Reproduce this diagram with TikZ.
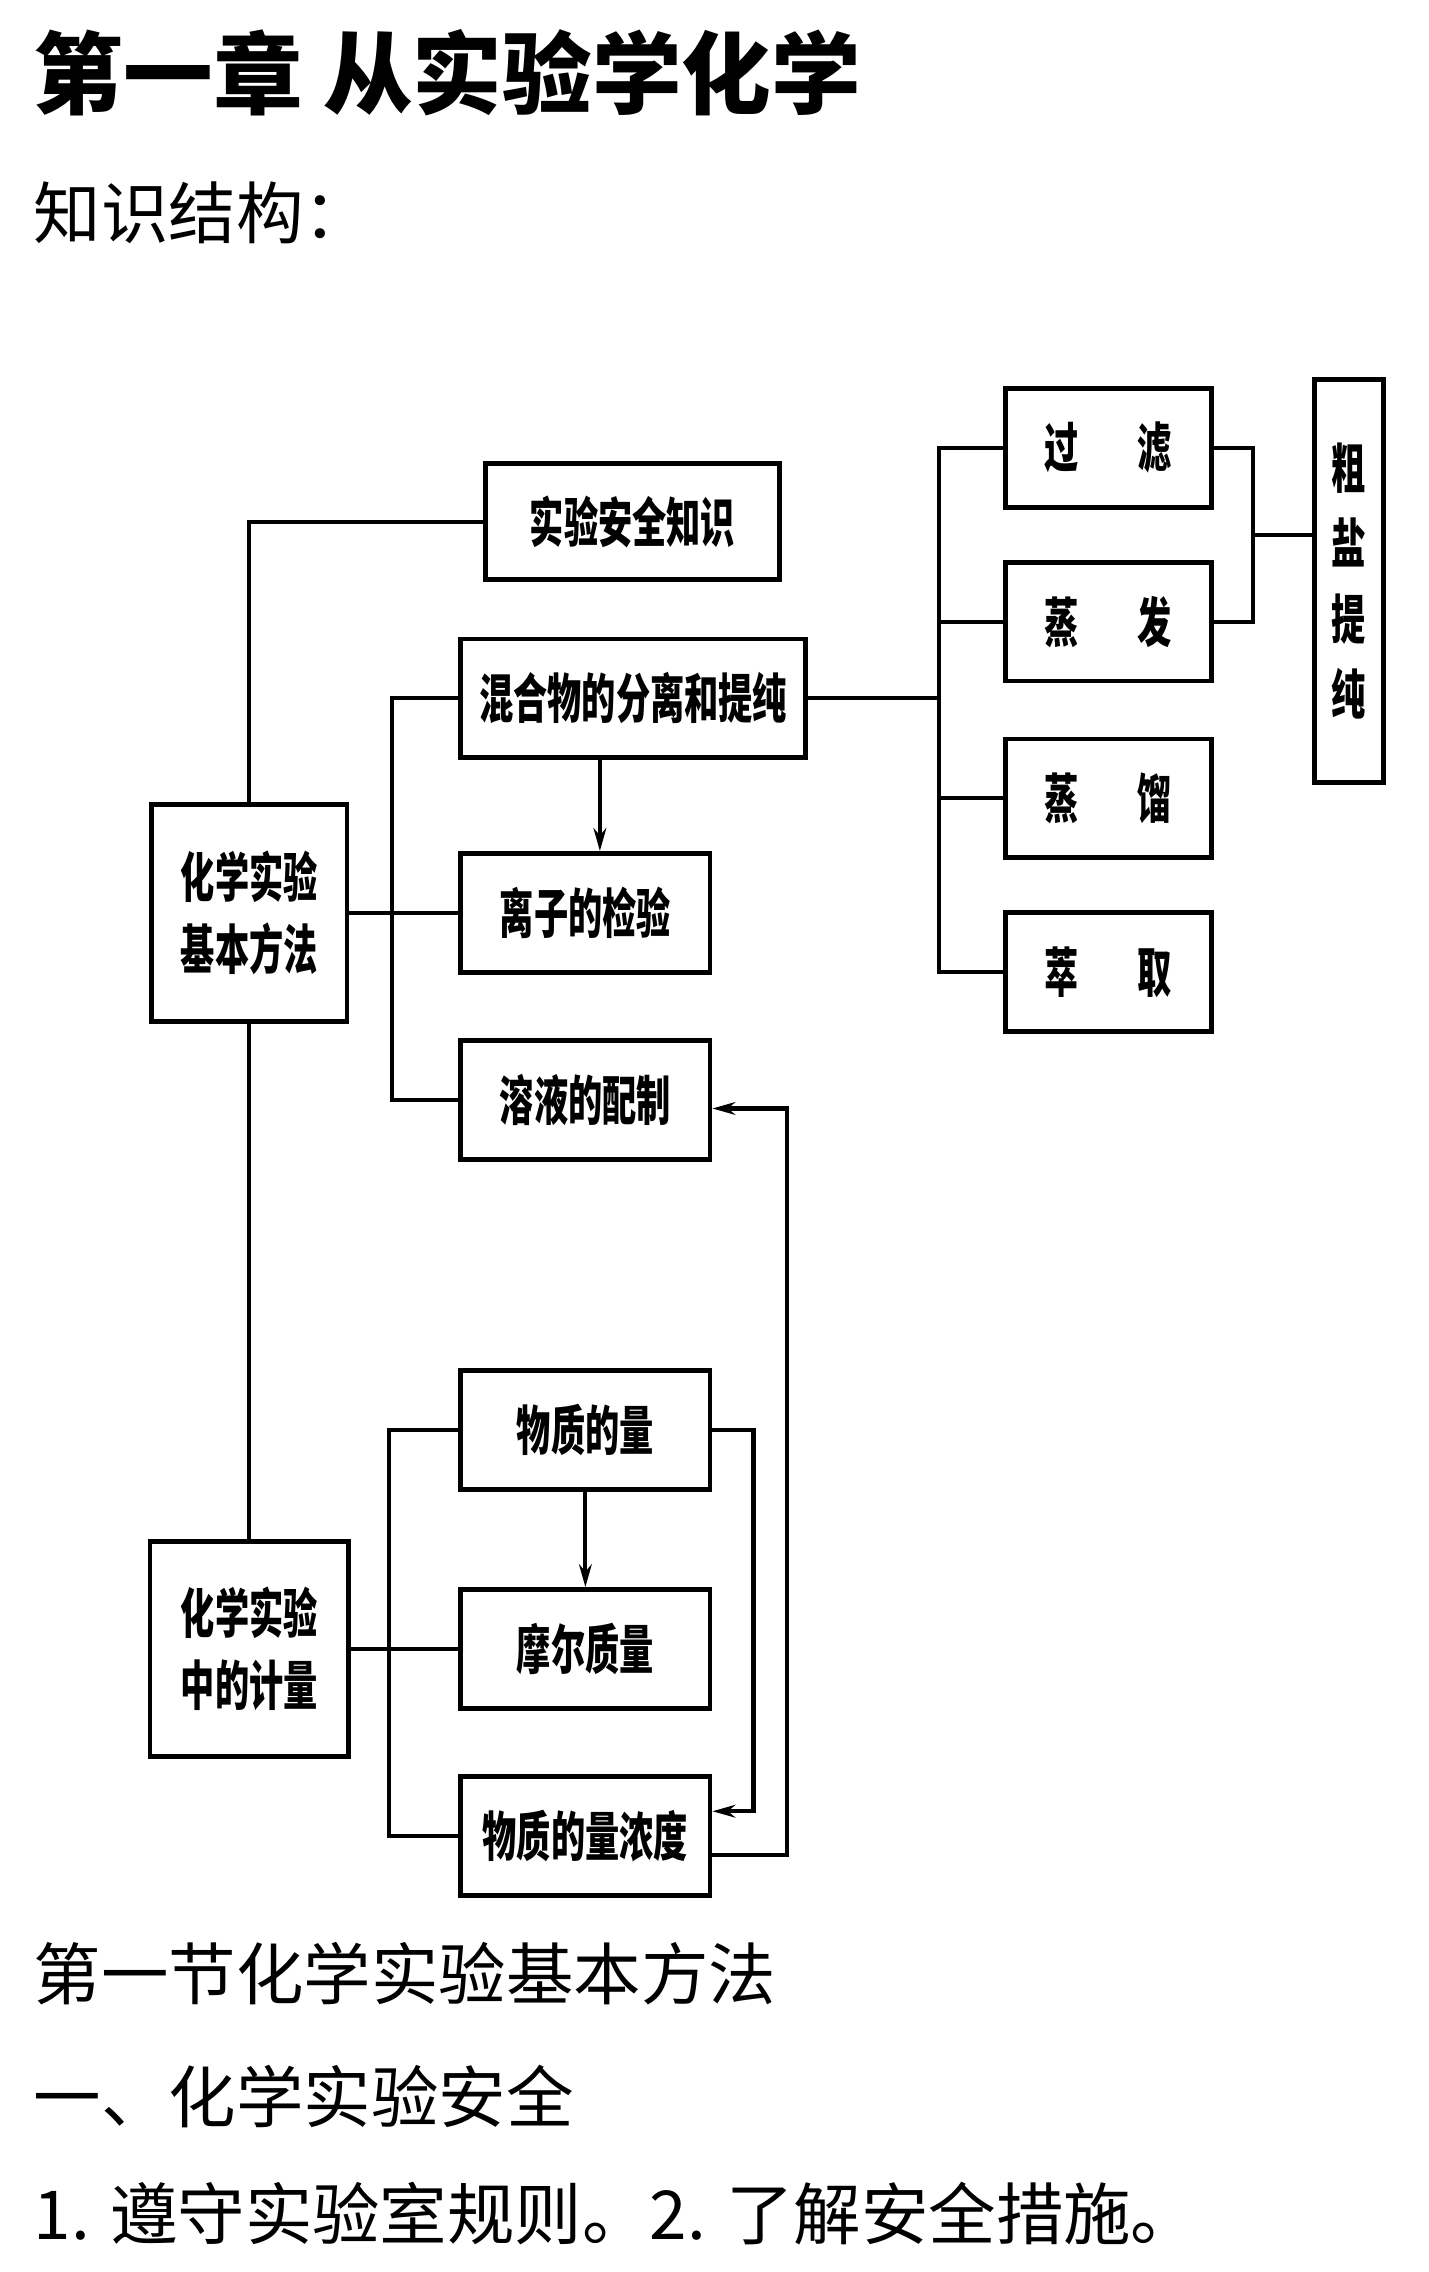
\documentclass[tikz,border=0pt]{standalone}
\usepackage{fontspec}
\newfontfamily\cjk{Noto Sans CJK SC}
\newfontfamily\boxcjk{Noto Sans CJK SC}[FakeStretch=0.64]
\usetikzlibrary{arrows.meta}
\tikzset{
  kuang/.style={draw, line width=1.9pt, inner sep=0pt, minimum height=1.64cm, align=center,
    font=\boxcjk\bfseries\fontsize{21}{28.5}\selectfont},
  lian/.style={line width=1.6pt},
  jian/.style={line width=1.6pt, -{Stealth[length=9pt,width=5pt]}},
  wenzi/.style={anchor=west, inner sep=0pt, font=\cjk\fontsize{26.5}{30}\selectfont}
}
\begin{document}
\begin{tikzpicture}[x=0.02cm, y=-0.02cm]
	\useasboundingbox (0,0) rectangle (986,1568);

	% headings
	\node[wenzi, font=\cjk\bfseries\fontsize{35.2}{40}\selectfont] (biaoti) at (23,50) {第一章 从实验学化学};
	\node[wenzi] (jiegou) at (23,147) {知识结构：};

	% boxes
	\node[kuang, minimum width=4.06cm, minimum height=1.6cm] (anquan) at (436.5,360) {实验安全知识};
	\node[kuang, minimum width=4.76cm] (hunhe) at (437,482) {混合物的分离和提纯};
	\node[kuang, minimum width=3.44cm] (lizi) at (404,630) {离子的检验};
	\node[kuang, minimum width=3.44cm] (rongye) at (404,759) {溶液的配制};
	\node[kuang, minimum width=2.7cm, minimum height=3cm] (jiben) at (172,630) {化学实验\\基本方法};

	\foreach \n/\a/\b/\y in {guolv/过/滤/309, zhengfa/蒸/发/429, zhengliu/蒸/馏/551, cuiqu/萃/取/671}
		\node[kuang, minimum width=2.84cm] (\n) at (765,\y) {\a\hspace{23pt}\b};
	\node[kuang, minimum width=0.96cm, minimum height=5.56cm,
		font=\boxcjk\bfseries\fontsize{21}{29.6}\selectfont] (cuyan) at (931,401) {粗\\盐\\提\\纯};

	\node[kuang, minimum width=3.44cm] (wuzhi) at (404,987) {物质的量};
	\node[kuang, minimum width=3.44cm] (moer) at (404,1138) {摩尔质量};
	\node[kuang, minimum width=3.44cm] (nongdu) at (404,1267) {物质的量浓度};
	\node[kuang, minimum width=2.74cm, minimum height=2.96cm] (jiliang) at (172,1138) {化学实验\\中的计量};

	% upper part
	\coordinate (a1) at (414,0);
	\draw[lian] (anquan.west) -| (jiben.north);
	\draw[lian] (jiben.south) -- (jiliang.north);
	\draw[lian] (jiben.east) -- (lizi.west);
	\draw[lian] (hunhe.west) -- ++(-46,0) |- (rongye.west);
	\draw[jian] (hunhe.south -| a1) -- (lizi.north -| a1);

	% separation methods
	\coordinate (zong) at (648,0);
	\coordinate (he) at (865,369);
	\draw[lian] (hunhe.east) -- (hunhe.east -| zong);
	\draw[lian] (guolv.west) -| (zong |- cuiqu.west) -- (cuiqu.west);
	\foreach \n in {zhengfa, zhengliu}
		\draw[lian] (\n.west) -- (\n.west -| zong);
	\draw[lian] (guolv.east) -| (he) |- (zhengfa.east);
	\draw[lian] (he) -- (he -| cuyan.west);

	% lower part
	\coordinate (y1) at (520,1250);
	\coordinate (y2) at (543,1280);
	\coordinate (y3) at (543,765);
	\draw[lian] (jiliang.east) -- (moer.west);
	\draw[lian] (wuzhi.west) -- ++(-48,0) |- (nongdu.west);
	\draw[jian] (wuzhi) -- (moer);
	\draw[jian] (wuzhi.east) -| (y1) -- (y1 -| nongdu.east);
	\draw[jian] (nongdu.east |- y2) -- (y2) -- (y3) -- (y3 -| rongye.east);

	% text below
	\node[wenzi] (jie) at (23,1362) {第一节化学实验基本方法};
	\node[wenzi] (yi) at (23,1447) {一、化学实验安全};
	\node[wenzi] (guize) at (23,1528) {1. 遵守实验室规则。2. 了解安全措施。};
\end{tikzpicture}
\end{document}
